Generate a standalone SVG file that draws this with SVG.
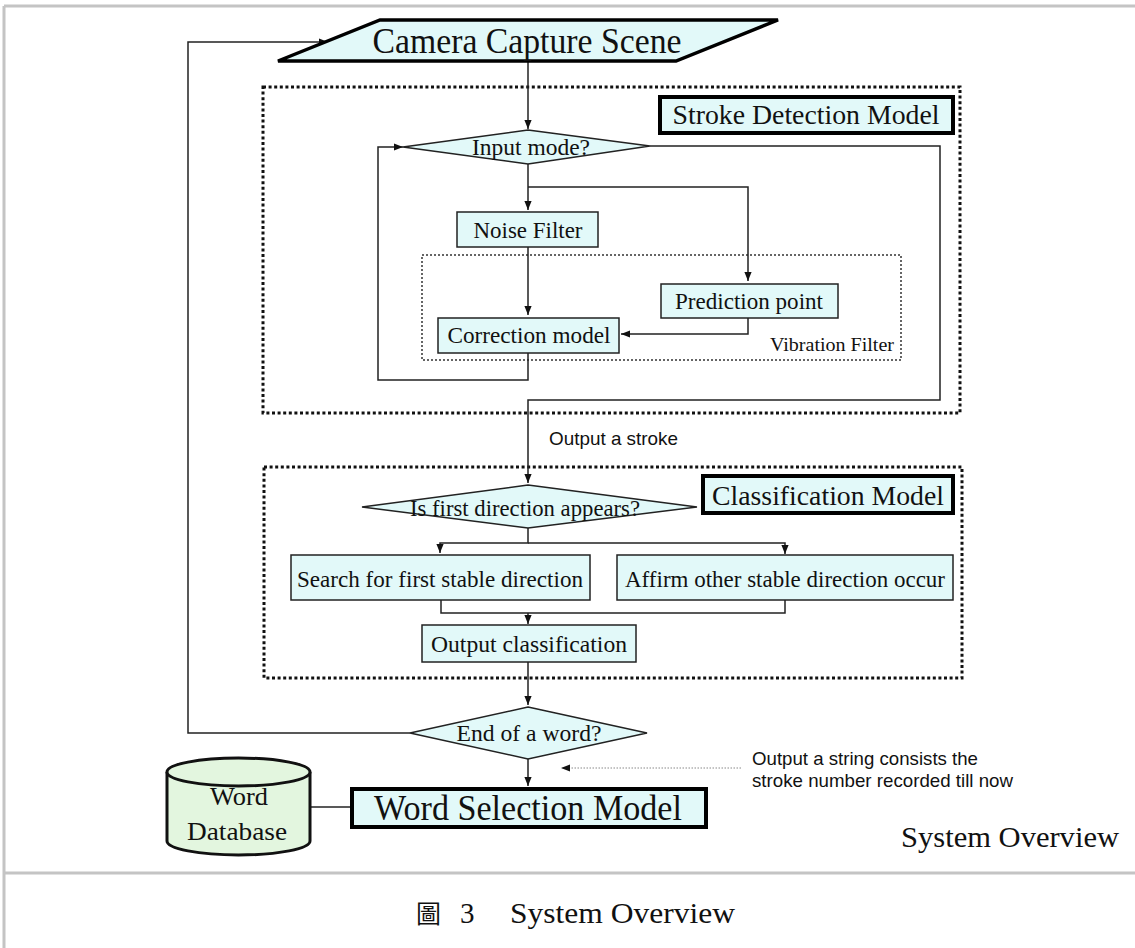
<svg xmlns="http://www.w3.org/2000/svg" width="1135" height="948" viewBox="0 0 1135 948">
<style>
.frame{fill:none;stroke:#c4c4c4;stroke-width:3}
.box{fill:#e2f9f9;stroke:#222;stroke-width:1.5}
.tbox{fill:#e2f9f9;stroke:#000;stroke-width:4}
.dotted{fill:none;stroke:#111;stroke-width:3;stroke-dasharray:3 2.6}
.dotthin{fill:none;stroke:#333;stroke-width:1.5;stroke-dasharray:2 2}
.ln{fill:none;stroke:#222;stroke-width:1.5}
.serif{font-family:"Liberation Serif","Times New Roman",serif;fill:#111}
.sans{font-family:"Liberation Sans",Arial,sans-serif;fill:#111}
.mid{text-anchor:middle}
</style>
<defs>
<marker id="ah" viewBox="0 0 10 8" refX="10" refY="4" markerWidth="9" markerHeight="7.5" markerUnits="userSpaceOnUse" orient="auto">
<path d="M0,0 L10,4 L0,8 z" fill="#111"/>
</marker>
</defs>
<rect width="1135" height="948" fill="#fff"/>
<g id="frame">
<line class="frame" x1="4" y1="6" x2="1135" y2="6"/>
<line class="frame" x1="4" y1="6" x2="4" y2="948"/>
<line class="frame" x1="4" y1="873" x2="1135" y2="873"/>
</g>
<g id="stroke-detection-group">
<rect class="dotted" x="263" y="87" width="697" height="326"/>
</g>
<g id="classification-group">
<rect class="dotted" x="264" y="467" width="698" height="211"/>
</g>
<g id="vibration-filter">
<rect class="dotthin" x="422" y="255" width="479" height="105"/>
<text class="serif" x="894" y="351" font-size="19" text-anchor="end" textLength="124" lengthAdjust="spacingAndGlyphs">Vibration Filter</text>
</g>
<g id="connectors">
<line class="ln" x1="528" y1="61" x2="528" y2="129" marker-end="url(#ah)"/>
<polyline class="ln" points="528,164 528,210" marker-end="url(#ah)"/>
<polyline class="ln" points="528,187 748,187 748,281" marker-end="url(#ah)"/>
<line class="ln" x1="528" y1="247" x2="528" y2="315" marker-end="url(#ah)"/>
<polyline class="ln" points="748,318 748,334 621,334" marker-end="url(#ah)"/>
<polyline class="ln" points="528,353 528,380 378,380 378,147 403,147" marker-end="url(#ah)"/>
<polyline class="ln" points="650,146 940,146 940,400 528,400 528,483" marker-end="url(#ah)"/>
<polyline class="ln" points="528,528 528,543 440,543 440,553" marker-end="url(#ah)"/>
<polyline class="ln" points="528,543 785,543 785,554" marker-end="url(#ah)"/>
<polyline class="ln" points="441,600 441,613 785,613 785,600"/>
<line class="ln" x1="528" y1="613" x2="528" y2="624" marker-end="url(#ah)"/>
<line class="ln" x1="528" y1="662" x2="528" y2="705" marker-end="url(#ah)"/>
<polyline class="ln" points="410,733 188,733 188,42 328,42" marker-end="url(#ah)"/>
<line class="ln" x1="528" y1="759" x2="528" y2="786" marker-end="url(#ah)"/>
<line x1="741" y1="768" x2="561" y2="768" stroke="#888" stroke-width="1" stroke-dasharray="1.5 1.5" marker-end="url(#ah)"/>
<line class="ln" x1="310" y1="807" x2="351" y2="807"/>
<text class="sans" x="549" y="445" font-size="19" textLength="129" lengthAdjust="spacingAndGlyphs">Output a stroke</text>
<text class="sans" x="752" y="765" font-size="19" textLength="226" lengthAdjust="spacingAndGlyphs">Output a string consists the</text>
<text class="sans" x="752" y="787" font-size="19" textLength="261" lengthAdjust="spacingAndGlyphs">stroke number recorded till now</text>
</g>
<g id="camera-capture-scene">
<polygon points="380,20 778,20 676,61 278,61" fill="#e2f9f9" stroke="#000" stroke-width="3.5" stroke-linejoin="miter"/>
<text class="serif mid" x="527" y="53" font-size="36" textLength="309" lengthAdjust="spacingAndGlyphs">Camera Capture Scene</text>
</g>
<g id="stroke-detection-model">
<rect class="tbox" x="660" y="97" width="293" height="36"/>
<text class="serif mid" x="806" y="124" font-size="27" textLength="267" lengthAdjust="spacingAndGlyphs">Stroke Detection Model</text>
</g>
<g id="input-mode">
<polygon class="box" points="528,130 650,146 528,164 403,147"/>
<text class="serif mid" x="531" y="155" font-size="23" textLength="118" lengthAdjust="spacingAndGlyphs">Input mode?</text>
</g>
<g id="noise-filter">
<rect class="box" x="457" y="212" width="141" height="35"/>
<text class="serif mid" x="528" y="238" font-size="23" textLength="109" lengthAdjust="spacingAndGlyphs">Noise Filter</text>
</g>
<g id="prediction-point">
<rect class="box" x="661" y="284" width="177" height="34"/>
<text class="serif mid" x="749" y="309" font-size="23" textLength="148" lengthAdjust="spacingAndGlyphs">Prediction point</text>
</g>
<g id="correction-model">
<rect class="box" x="438" y="318" width="181" height="35"/>
<text class="serif mid" x="529" y="343" font-size="23" textLength="163" lengthAdjust="spacingAndGlyphs">Correction model</text>
</g>
<g id="classification-model">
<rect class="tbox" x="703" y="476" width="250" height="37"/>
<text class="serif mid" x="828" y="505" font-size="27" textLength="232" lengthAdjust="spacingAndGlyphs">Classification Model</text>
</g>
<g id="first-direction">
<polygon class="box" points="528,485 697,507 528,528 362,507"/>
<text class="serif mid" x="525" y="516" font-size="23" textLength="230" lengthAdjust="spacingAndGlyphs">Is first direction appears?</text>
</g>
<g id="search-first">
<rect class="box" x="291" y="555" width="299" height="45"/>
<text class="serif mid" x="440" y="587" font-size="23" textLength="286" lengthAdjust="spacingAndGlyphs">Search for first stable direction</text>
</g>
<g id="affirm-other">
<rect class="box" x="617" y="555" width="336" height="45"/>
<text class="serif mid" x="785" y="587" font-size="23" textLength="320" lengthAdjust="spacingAndGlyphs">Affirm other stable direction occur</text>
</g>
<g id="output-classification">
<rect class="box" x="422" y="625" width="214" height="37"/>
<text class="serif mid" x="529" y="652" font-size="23" textLength="196" lengthAdjust="spacingAndGlyphs">Output classification</text>
</g>
<g id="end-of-word">
<polygon class="box" points="528,707 647,733 528,759 410,733"/>
<text class="serif mid" x="529" y="741" font-size="23" textLength="145" lengthAdjust="spacingAndGlyphs">End of a word?</text>
</g>
<g id="word-selection-model">
<rect class="tbox" x="352" y="789" width="354" height="38"/>
<text class="serif mid" x="528" y="820" font-size="35" textLength="308" lengthAdjust="spacingAndGlyphs">Word Selection Model</text>
</g>
<g id="word-database">
<path d="M167,772 L167,841 A71.5,14 0 0 0 310,841 L310,772" fill="#e3f6df" stroke="#111" stroke-width="3"/>
<ellipse cx="238.5" cy="772" rx="71.5" ry="14" fill="#e3f6df" stroke="#111" stroke-width="3"/>
<text class="serif mid" x="239" y="805" font-size="25" fill="#333" textLength="58" lengthAdjust="spacingAndGlyphs">Word</text>
<text class="serif mid" x="237" y="840" font-size="25" textLength="100" lengthAdjust="spacingAndGlyphs">Database</text>
</g>
<g id="system-overview-label">
<text class="serif" x="901" y="847" font-size="30" textLength="218" lengthAdjust="spacingAndGlyphs">System Overview</text>
</g>
<g id="caption">
<text font-family="'Liberation Serif','Noto Sans CJK TC',serif" font-size="29" fill="#111" y="923"><tspan x="416" font-family="'Noto Sans CJK TC','Noto Sans CJK SC',sans-serif" font-size="25">圖</tspan><tspan x="460">3</tspan><tspan x="510" textLength="225" lengthAdjust="spacingAndGlyphs">System Overview</tspan></text>
</g>
</svg>
